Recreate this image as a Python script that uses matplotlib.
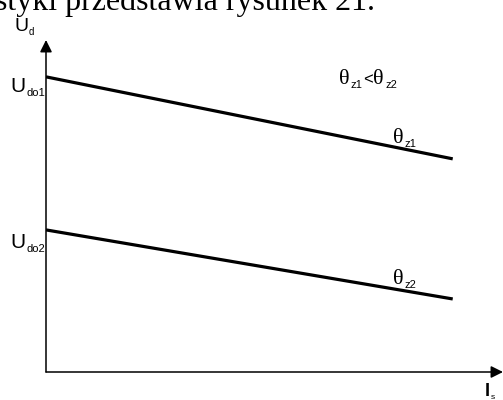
import matplotlib.pyplot as plt

# current range and the two load characteristics (U_d vs I_s)
current = [0.0, 8.9]
u_theta1 = [8.89, 6.42]
u_theta2 = [4.28, 2.20]

serif = 'Liberation Serif'
sans = 'Liberation Sans'

fig = plt.figure(figsize=(5.03, 4.0), dpi=100)
ax = fig.add_axes([46 / 503, 28 / 400, 457 / 503, 332 / 400])
ax.set_xlim(0, 10)
ax.set_ylim(0, 10)
ax.axis('off')

ax.plot(current, u_theta1, color='black', lw=2.3, solid_capstyle='butt')
ax.plot(current, u_theta2, color='black', lw=2.3, solid_capstyle='butt')

# axes with arrow heads
arrow = dict(arrowstyle='-|>', color='black', lw=1.1, mutation_scale=18,
             shrinkA=0, shrinkB=0)
ax.annotate('', xy=(0, 1.0), xytext=(0, 0), xycoords='axes fraction',
            arrowprops=arrow, annotation_clip=False)
ax.annotate('', xy=(1.0, 0), xytext=(0, 0), xycoords='axes fraction',
            arrowprops=arrow, annotation_clip=False)


def sub_label(x, y, main, sub, size=14, subsize=8, family=sans, mainfamily=None,
              gap=1, drop=4, weight='normal'):
    # main symbol followed by a lowered subscript, positioned in pixels
    t = fig.text(x / 503, 1 - y / 400, main, fontsize=size, weight=weight,
                 family=mainfamily or family, va='baseline', ha='left')
    fig.canvas.draw()
    bb = t.get_window_extent()
    fig.text((bb.x1 + gap) / 503, 1 - (y + drop) / 400, sub, fontsize=subsize,
             family=family, va='baseline', ha='left')
    return bb.x1


# fragment of the sentence above the figure
fig.text(-5 / 503, 1 - 10 / 400, 'styki przedstawia rysunek 21.', fontsize=23,
         family=serif, va='baseline', ha='left')

sub_label(14, 31, 'U', 'd', size=14, subsize=7)
sub_label(10, 92, 'U', 'do1', size=15, subsize=8)
sub_label(10, 248, 'U', 'do2', size=15, subsize=8)

# relation between the two temperatures
x1 = sub_label(339, 84, 'θ', 'z1', size=16, subsize=8, mainfamily=serif)
t = fig.text((x1 + 13) / 503, 1 - 84 / 400, '<', fontsize=12, family=sans,
             va='baseline', ha='left')
fig.canvas.draw()
xl = t.get_window_extent().x1
sub_label(xl + 1, 84, 'θ', 'z2', size=16, subsize=8, mainfamily=serif)

sub_label(393, 143, 'θ', 'z1', size=16, subsize=8, mainfamily=serif)
sub_label(393, 284, 'θ', 'z2', size=16, subsize=8, mainfamily=serif)

sub_label(485, 396, 'I', 's', size=13, subsize=6, weight='bold', drop=3)

fig.savefig('out.png', dpi=100)
